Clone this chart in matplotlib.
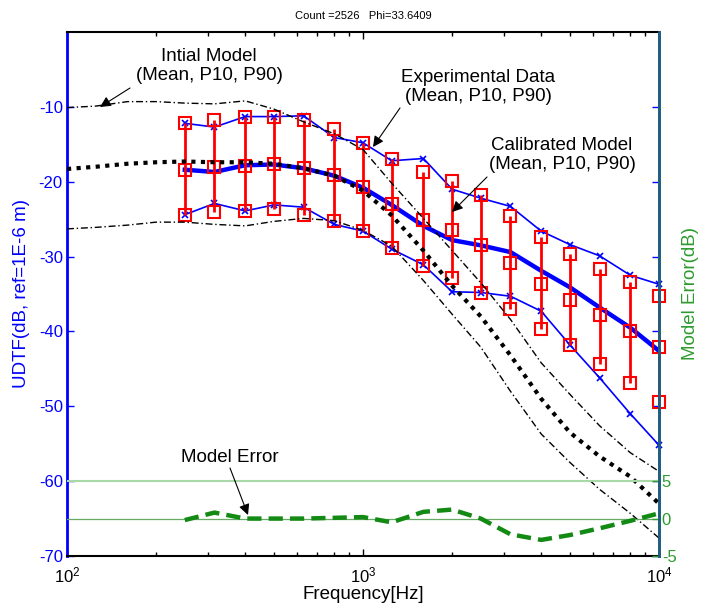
import matplotlib
matplotlib.use("Agg")
import matplotlib.pyplot as plt
from matplotlib.ticker import LogLocator, NullFormatter, FixedLocator

plt.rcParams['font.family'] = ['Liberation Sans', 'DejaVu Sans']
plt.rcParams['mathtext.fontset'] = 'custom'
plt.rcParams['mathtext.rm'] = 'Liberation Sans'
plt.rcParams['mathtext.it'] = 'Liberation Sans'
plt.rcParams['axes.unicode_minus'] = False

# ---------------- data ----------------
freq = [250, 315, 400, 500, 630, 800, 1000, 1250, 1600, 2000, 2500, 3150,
        4000, 5000, 6300, 8000, 10000]

exp_p90 = [-12.2, -12.7, -11.3, -11.3, -11.2, -14.1, -14.8, -17.2, -16.9, -21.0,
           -22.2, -23.3, -26.6, -28.4, -29.9, -32.5, -33.7]
exp_mean = [-18.4, -18.7, -17.8, -17.7, -18.2, -19.2, -20.8, -23.1, -25.9, -27.8,
            -28.5, -29.4, -31.9, -34.1, -36.8, -39.5, -42.6]
exp_p10 = [-24.4, -22.9, -23.9, -23.1, -23.4, -25.7, -26.6, -29.0, -31.1, -34.7,
           -34.8, -35.3, -37.3, -41.8, -46.2, -51.0, -55.2]

cal_p90 = [-12.2, -11.8, -11.4, -11.4, -11.7, -12.9, -14.8, -16.9, -18.7, -19.9,
           -21.8, -24.6, -27.4, -29.6, -31.7, -33.4, -35.3]
cal_mean = [-18.4, -18.1, -17.9, -17.7, -18.2, -19.1, -20.7, -23.0, -25.1, -26.5,
            -28.5, -30.9, -33.7, -35.8, -37.8, -39.9, -42.1]
cal_p10 = [-24.4, -24.0, -23.9, -23.7, -24.4, -25.2, -26.6, -28.9, -31.3, -32.9,
           -34.8, -37.0, -39.7, -41.8, -44.3, -46.9, -49.4]

init_freq = [100, 125, 160, 200, 250, 315, 400, 500, 630, 800, 1000, 1250, 1600,
             2000, 2500, 3150, 4000, 5000, 6300, 8000, 10000]
init_p90 = [-10.1, -9.9, -9.3, -9.3, -9.5, -9.6, -9.2, -10.3, -12.0, -13.6, -15.7,
            -20.2, -24.9, -29.2, -33.5, -38.4, -44.2, -48.4, -52.6, -56.2, -58.7]
init_mean = [-18.3, -18.0, -17.6, -17.4, -17.3, -17.4, -17.4, -17.6, -18.2, -19.2,
             -21.2, -24.5, -29.2, -33.9, -38.0, -43.2, -49.0, -53.5, -56.7, -59.4, -63.0]
init_p10 = [-26.3, -26.1, -25.8, -25.4, -25.4, -25.7, -25.9, -25.3, -24.9, -25.2,
            -26.5, -28.6, -33.2, -37.7, -42.1, -48.0, -53.7, -57.5, -61.1, -64.3, -67.6]

model_err = [-0.2, 0.8, 0.0, 0.0, 0.0, 0.1, 0.2, -0.5, 0.9, 1.2, 0.0, -2.1, -2.85,
             -2.2, -1.3, -0.3, 0.7]

left_ticks = [-70, -60, -50, -40, -30, -20, -10]
right_ticks = [-5, 0, 5]

title_txt = "Count =2526   Phi=33.6409"

# ---------------- figure ----------------
W, H = 701, 608
fig = plt.figure(figsize=(W / 100, H / 100), dpi=100)
L, R, T, B = 67, 659, 32, 556
ax = fig.add_axes([L / W, 1 - B / H, (R - L) / W, (B - T) / H])
ax2 = ax.twinx()

BLUE = '#0000ff'
GREEN_TXT = '#2e9b2e'
TEAL = '#1f5f7f'

# experimental data
ax.plot(freq, exp_p90, color=BLUE, lw=1.2, marker='x', ms=5, mew=1.2, zorder=3,
        clip_on=False)
ax.plot(freq, exp_p10, color=BLUE, lw=1.2, marker='x', ms=5, mew=1.2, zorder=3,
        clip_on=False)
ax.plot(freq, exp_mean, color=BLUE, lw=3.2, zorder=3)

# calibrated model
ax.vlines(freq, cal_p10, cal_p90, color='#ff0000', lw=2, zorder=4)
for s in (cal_p90, cal_mean, cal_p10):
    ax.plot(freq, s, ls='none', marker='s', ms=8, mfc='none', mec='#ff0000',
            mew=1.5, zorder=5, clip_on=False)

# initial model
ax.plot(init_freq, init_p90, color='k', lw=1.0, ls=(0, (5, 2, 1, 2)), zorder=6)
ax.plot(init_freq, init_p10, color='k', lw=1.0, ls=(0, (5, 2, 1, 2)), zorder=6)
ax.plot(init_freq, init_mean, color='k', lw=3.0, ls=(0, (1, 1.3)),
        dash_capstyle='butt', zorder=6)

ax.set_xscale('log')
ax.set_xlim(100, 10000)
ax.set_ylim(-70, 0)
ax.set_yticks(left_ticks)
ax.set_yticklabels([str(v) for v in left_ticks])
ax.xaxis.set_major_locator(FixedLocator([100, 1000, 10000]))
ax.xaxis.set_minor_locator(LogLocator(base=10, subs=range(2, 10)))
ax.xaxis.set_minor_formatter(NullFormatter())
ax.set_xticklabels([r'$10^{2}$', r'$10^{3}$', r'$10^{4}$'])

ax.tick_params(axis='x', which='major', direction='in', top=True, length=5,
               width=1, labelsize=12, pad=7, colors='k')
ax.tick_params(axis='x', which='minor', direction='in', top=True, length=3, width=1)
ax.tick_params(axis='y', direction='in', right=True, length=5, width=1,
               colors=BLUE, labelsize=12, pad=3)

for sp in ('top', 'bottom'):
    ax.spines[sp].set_color('k')
    ax.spines[sp].set_linewidth(1.5)
ax.spines['left'].set_color(BLUE)
ax.spines['left'].set_linewidth(2)
ax.spines['right'].set_color(TEAL)
ax.spines['right'].set_linewidth(2)

ax.set_xlabel('Frequency[Hz]', fontsize=13.5, labelpad=0)
ax.set_ylabel('UDTF(dB, ref=1E-6 m)', fontsize=13.5, color=BLUE, labelpad=6)

# right axis (model error)
ax2.set_ylim(-5, 65)
ax2.set_yticks(right_ticks)
ax2.set_yticklabels([str(v) for v in right_ticks])
ax2.axhline(5, color='#a8d8a8', lw=1.5, zorder=1)
ax2.axhline(0, color='#66aa66', lw=0.9, zorder=1)
ax2.plot(freq, model_err, color='#138a13', lw=3.2, ls=(0, (3.2, 1.6)), zorder=3)
ax2.tick_params(axis='y', direction='in', length=5, width=1, colors=GREEN_TXT,
                labelsize=12, pad=2)
ax2.spines['right'].set_color(TEAL)
ax2.spines['right'].set_linewidth(2)
ax2.spines['left'].set_visible(False)
ax2.spines['top'].set_visible(False)
ax2.spines['bottom'].set_visible(False)
ax2.set_ylabel('Model Error(dB)', fontsize=13.5, color=GREEN_TXT, labelpad=4)

fig.text((L + R) / 2 / W, 1 - 16 / H, title_txt, fontsize=8, ha='center', va='center')


def af(px, py):
    return ((px - L) / (R - L), (B - py) / (B - T))


arrow = dict(arrowstyle='-|>', color='k', lw=0.8, mutation_scale=16,
             shrinkA=0, shrinkB=0)
notes = [
    ("Intial Model\n(Mean, P10, P90)", (209, 66), (130, 88), (100, 107)),
    ("Experimental Data\n(Mean, P10, P90)", (478, 87), (400, 108), (373, 147)),
    ("Calibrated Model\n(Mean, P10, P90)", (562, 155), (487, 177), (452, 212)),
]
for txt, tpos, tail, tip in notes:
    ax2.text(*af(*tpos), txt, transform=ax.transAxes, ha='center', va='center',
             fontsize=13.5, linespacing=1.15, zorder=10)
    ax2.annotate('', xy=af(*tip), xycoords='axes fraction', xytext=af(*tail),
                 textcoords='axes fraction', arrowprops=arrow, zorder=10)

ax2.text(*af(230, 458), "Model Error", transform=ax.transAxes, ha='center',
         va='center', fontsize=13.5, zorder=10)
ax2.annotate('', xy=af(248, 515), xycoords='axes fraction', xytext=af(230, 468),
             textcoords='axes fraction', arrowprops=arrow, zorder=10)

fig.savefig('out.png', dpi=100)
